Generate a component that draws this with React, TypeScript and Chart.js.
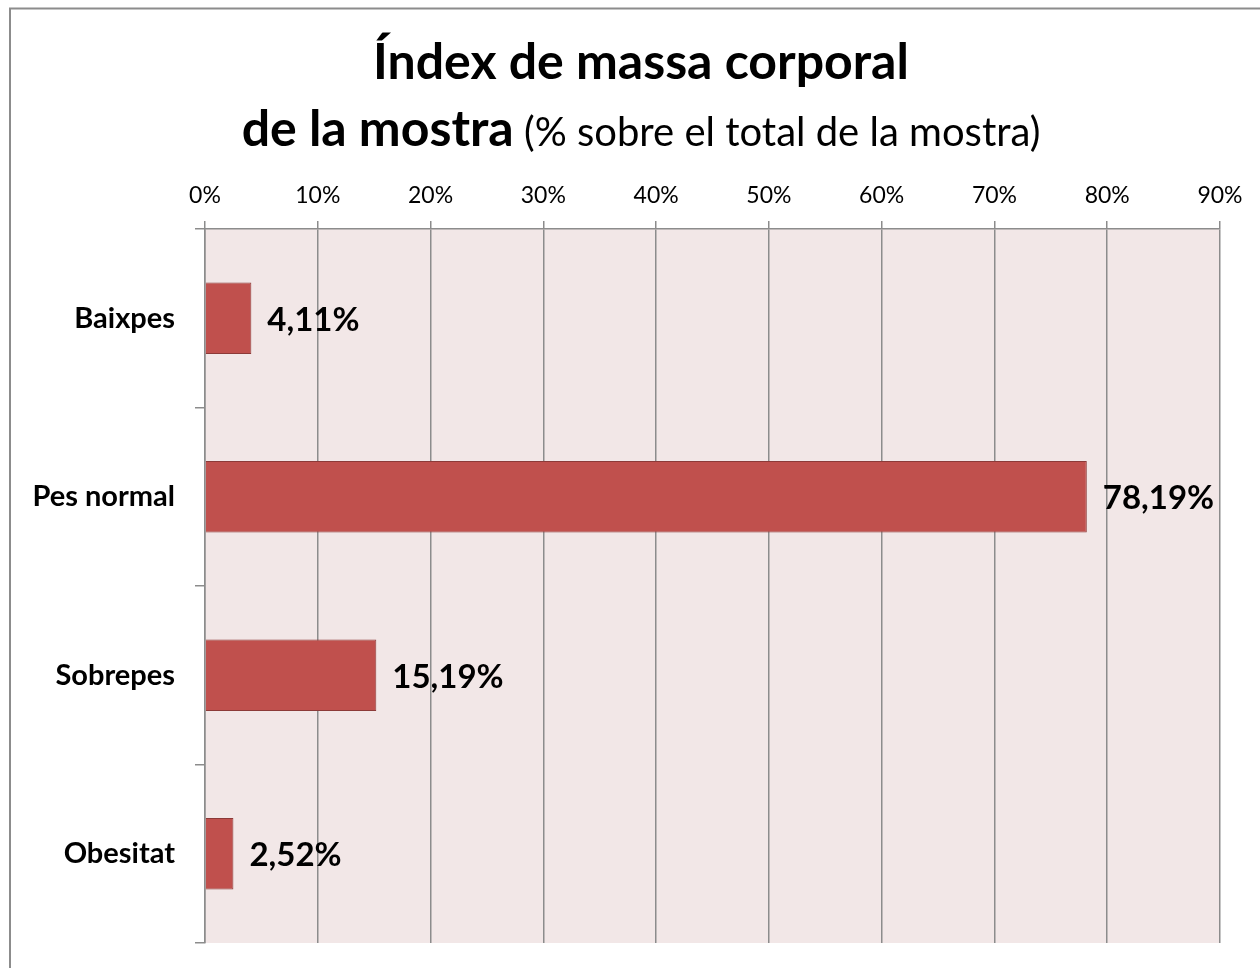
import React, { useEffect, useRef } from "react";
import { Chart, registerables } from "chart.js";

Chart.register(...registerables);

const categories = ["Baixpes", "Pes normal", "Sobrepes", "Obesitat"];
const values = [4.11, 78.19, 15.19, 2.52];
const titleLine1 = "Índex de massa corporal";
const titleLine2Bold = "de la mostra";
const titleLine2Normal = " (% sobre el total de la mostra)";
const xMin = 0;
const xMax = 90;
const xStep = 10;

const FONT = "Lato, 'Liberation Sans', sans-serif";

const fmt = (v: number) => v.toFixed(2).replace(".", ",") + "%";

const backgroundPlugin = {
  id: "bgFrame",
  beforeDraw(chart: any) {
    const { ctx, chartArea } = chart;
    ctx.save();
    ctx.fillStyle = "#ffffff";
    ctx.fillRect(0, 0, chart.width, chart.height);
    ctx.strokeStyle = "#8c8c8c";
    ctx.lineWidth = 2;
    ctx.strokeRect(10, 8.5, chart.width + 20, chart.height + 20);
    ctx.fillStyle = "#F2E7E7";
    ctx.fillRect(chartArea.left, chartArea.top, chartArea.right - chartArea.left, chartArea.bottom - chartArea.top);
    ctx.restore();
  },
};

const titlePlugin = {
  id: "mixedTitle",
  afterDraw(chart: any) {
    const { ctx } = chart;
    const cx = 641;
    ctx.save();
    ctx.fillStyle = "#000000";
    ctx.textBaseline = "alphabetic";
    ctx.textAlign = "left";
    const boldFont = `bold 50px ${FONT}`;
    const normFont = `normal 40px ${FONT}`;
    ctx.font = boldFont;
    const w1 = ctx.measureText(titleLine1).width;
    ctx.fillText(titleLine1, cx - w1 / 2, 79);
    const wb = ctx.measureText(titleLine2Bold).width;
    ctx.font = normFont;
    const wn = ctx.measureText(titleLine2Normal).width;
    const start = cx - (wb + wn) / 2;
    ctx.font = boldFont;
    ctx.fillText(titleLine2Bold, start, 146);
    ctx.font = normFont;
    ctx.fillText(titleLine2Normal, start + wb, 146);
    ctx.restore();
  },
};

const valueLabelPlugin = {
  id: "valueLabels",
  afterDatasetsDraw(chart: any) {
    const { ctx } = chart;
    const meta = chart.getDatasetMeta(0);
    ctx.save();
    ctx.font = `bold 33px ${FONT}`;
    ctx.fillStyle = "#000000";
    ctx.textBaseline = "middle";
    ctx.textAlign = "left";
    meta.data.forEach((bar: any, i: number) => {
      ctx.fillText(fmt(values[i]), bar.x + 16, bar.y + 2);
    });
    ctx.restore();
  },
};

export default function App() {
  const ref = useRef<HTMLCanvasElement | null>(null);
  useEffect(() => {
    document.body.style.margin = "0";
    const canvas = ref.current;
    if (!canvas) return;
    const chart = new Chart(canvas, {
      type: "bar",
      data: {
        labels: categories,
        datasets: [
          {
            data: values,
            backgroundColor: "#C0504D",
            borderColor: "#8C3A38",
            borderWidth: 1,
            categoryPercentage: 0.4,
            barPercentage: 1.0,
          },
        ],
      },
      options: {
        indexAxis: "y",
        responsive: false,
        animation: false,
        devicePixelRatio: 1,
        layout: { padding: { left: 0, top: 0, right: 40, bottom: 25 } },
        plugins: {
          legend: { display: false },
          title: { display: false },
          tooltip: { enabled: false },
        },
        scales: {
          x: {
            position: "top",
            min: xMin,
            max: xMax,
            ticks: {
              stepSize: xStep,
              color: "#000000",
              font: { family: FONT, size: 23 },
              padding: 12,
              callback: (v: any) => v + "%",
            },
            grid: {
              color: "#8c8c8c",
              lineWidth: 1.5,
              drawTicks: true,
              tickLength: 8,
            },
            border: { display: true, color: "#8c8c8c", width: 1.5 },
            afterFit: (scale: any) => {
              scale.height = 229;
            },
          },
          y: {
            ticks: {
              color: "#000000",
              font: { family: FONT, size: 29, weight: "bold" },
              padding: 20,
            },
            grid: {
              offset: true,
              drawOnChartArea: false,
              drawTicks: true,
              tickLength: 10,
              color: "#8c8c8c",
              lineWidth: 1.5,
            },
            border: { display: true, color: "#8c8c8c", width: 1.5 },
            afterFit: (scale: any) => {
              scale.width = 205;
              scale.paddingTop = 0;
              scale.paddingBottom = 0;
            },
          },
        },
      },
      plugins: [backgroundPlugin, titlePlugin, valueLabelPlugin],
    });
    return () => chart.destroy();
  }, []);
  return (
    <div style={{ width: 1260, height: 968 }}>
      <canvas ref={ref} width={1260} height={968} />
    </div>
  );
}
